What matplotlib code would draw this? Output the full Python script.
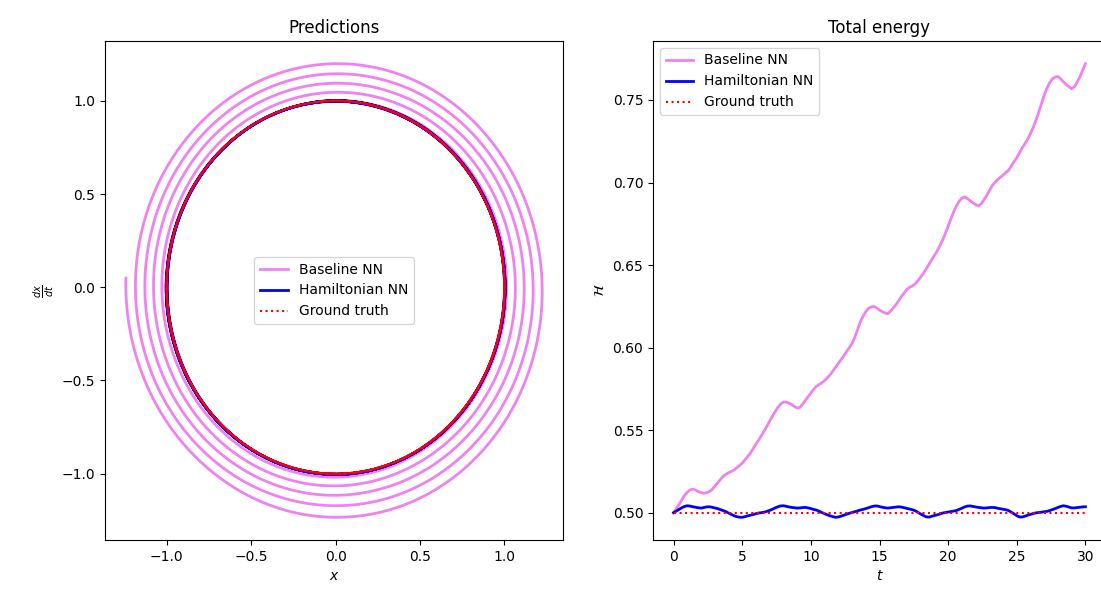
# -*- coding: utf-8 -*-
import numpy as np
import matplotlib
matplotlib.use("Agg")
import matplotlib.pyplot as plt
from matplotlib.lines import Line2D
from matplotlib.projections.polar import PolarAxes

# time grid, step 0.2 from 0 to 30
t = np.arange(151) * 0.2

# energy, one row per unit of t (5 samples each)
baseline_energy = [
    0.5000, 0.5025, 0.5050, 0.5078, 0.5105,
    0.5125, 0.5138, 0.5143, 0.5137, 0.5128,
    0.5122, 0.5118, 0.5120, 0.5128, 0.5140,
    0.5160, 0.5180, 0.5200, 0.5220, 0.5232,
    0.5242, 0.5250, 0.5258, 0.5272, 0.5286,
    0.5300, 0.5320, 0.5340, 0.5362, 0.5388,
    0.5413, 0.5440, 0.5467, 0.5495, 0.5525,
    0.5556, 0.5585, 0.5612, 0.5638, 0.5658,
    0.5670, 0.5670, 0.5664, 0.5655, 0.5643,
    0.5634, 0.5638, 0.5658, 0.5680, 0.5702,
    0.5725, 0.5747, 0.5765, 0.5776, 0.5787,
    0.5800, 0.5817, 0.5835, 0.5858, 0.5882,
    0.5905, 0.5928, 0.5950, 0.5975, 0.6000,
    0.6025, 0.6062, 0.6108, 0.6155, 0.6190,
    0.6218, 0.6238, 0.6247, 0.6249, 0.6240,
    0.6228, 0.6218, 0.6210, 0.6205, 0.6220,
    0.6240, 0.6260, 0.6285, 0.6310, 0.6332,
    0.6353, 0.6365, 0.6375, 0.6386, 0.6405,
    0.6428, 0.6450, 0.6477, 0.6505, 0.6532,
    0.6558, 0.6585, 0.6617, 0.6652, 0.6692,
    0.6735, 0.6780, 0.6822, 0.6858, 0.6886,
    0.6905, 0.6913, 0.6903, 0.6890, 0.6878,
    0.6866, 0.6859, 0.6870, 0.6895, 0.6920,
    0.6950, 0.6980, 0.7000, 0.7017, 0.7031,
    0.7045, 0.7060, 0.7074, 0.7100, 0.7125,
    0.7150, 0.7180, 0.7210, 0.7236, 0.7264,
    0.7297, 0.7333, 0.7378, 0.7425, 0.7478,
    0.7530, 0.7572, 0.7605, 0.7628, 0.7640,
    0.7642, 0.7628, 0.7610, 0.7594, 0.7580,
    0.7568, 0.7580, 0.7608, 0.7640, 0.7680,
    0.7720,
]

hnn_energy = [
    0.5000, 0.5010, 0.5020, 0.5030, 0.5038,
    0.5042, 0.5040, 0.5036, 0.5033, 0.5030,
    0.5028, 0.5031, 0.5035, 0.5036, 0.5033,
    0.5029, 0.5025, 0.5019, 0.5013, 0.5007,
    0.4998, 0.4990, 0.4982, 0.4976, 0.4973,
    0.4972, 0.4976, 0.4981, 0.4985, 0.4989,
    0.4994, 0.4998, 0.5000, 0.5003, 0.5008,
    0.5014, 0.5021, 0.5029, 0.5036, 0.5041,
    0.5042, 0.5039, 0.5035, 0.5032, 0.5030,
    0.5028, 0.5029, 0.5031, 0.5032, 0.5029,
    0.5025, 0.5020, 0.5016, 0.5009, 0.5001,
    0.4994, 0.4987, 0.4981, 0.4976, 0.4972,
    0.4974, 0.4979, 0.4985, 0.4991, 0.4996,
    0.5001, 0.5006, 0.5011, 0.5016, 0.5020,
    0.5025, 0.5030, 0.5036, 0.5040, 0.5041,
    0.5037, 0.5033, 0.5030, 0.5028, 0.5030,
    0.5032, 0.5034, 0.5036, 0.5034, 0.5030,
    0.5026, 0.5022, 0.5018, 0.5012, 0.5002,
    0.4992, 0.4983, 0.4975, 0.4973, 0.4978,
    0.4983, 0.4987, 0.4992, 0.4998, 0.5001,
    0.5004, 0.5007, 0.5010, 0.5013, 0.5020,
    0.5027, 0.5035, 0.5040, 0.5041, 0.5038,
    0.5035, 0.5032, 0.5030, 0.5028, 0.5029,
    0.5031, 0.5032, 0.5031, 0.5027, 0.5024,
    0.5021, 0.5018, 0.5013, 0.5003, 0.4993,
    0.4982, 0.4974, 0.4974, 0.4979, 0.4985,
    0.4990, 0.4995, 0.4999, 0.5001, 0.5003,
    0.5006, 0.5008, 0.5013, 0.5019, 0.5025,
    0.5032, 0.5038, 0.5042, 0.5039, 0.5034,
    0.5029, 0.5029, 0.5031, 0.5033, 0.5035,
    0.5036,
]

gt_energy = [0.5] * len(t)

# starting phase angle of the orbit (clockwise motion in the x, dx/dt plane)
theta0 = 1.686

labels = ["Baseline NN", "Hamiltonian NN", "Ground truth"]
colors = ["violet", "b", "r"]

try:
    polar = PolarAxes.PolarTransform(apply_theta_transforms=False)
except TypeError:
    polar = PolarAxes.PolarTransform()


# draw the orbit in the (x, dx/dt) plane: angle from t, radius from H = r^2 / 2
# the polar transform lets matplotlib render smooth arcs between samples
def PhaseLine(ax, energy, style, color, lw, label):
    r = np.sqrt(2 * np.asarray(energy))
    ang = theta0 - t
    line = Line2D(ang, r, linestyle=style, color=color, lw=lw, label=label,
                  transform=polar + ax.transData)
    path = line.get_path()
    path._interpolation_steps = 16
    path.should_simplify = False
    ax.add_line(line)
    return line


fig = plt.figure(figsize=(11.01, 5.94), dpi=100)
ax1 = fig.add_axes([105 / 1101, 54 / 594, 458 / 1101, 499 / 594])
ax2 = fig.add_axes([653 / 1101, 54 / 594, 453 / 1101, 499 / 594])

# ==================left: predictions=============================
PhaseLine(ax1, baseline_energy, '-', colors[0], 2, labels[0])
PhaseLine(ax1, hnn_energy, '-', colors[1], 2, labels[1])
PhaseLine(ax1, gt_energy, ':', colors[2], 1.5, labels[2])
ax1.autoscale_view()
ax1.set_title("Predictions", fontsize=12)
ax1.set_xlabel("$x$")
ax1.set_ylabel("$\\frac{dx}{dt}$")
ax1.legend(loc='center')

# ==================right: total energy=============================
ax2.plot(t, baseline_energy, '-', color=colors[0], lw=2, label=labels[0])
ax2.plot(t, hnn_energy, '-', color=colors[1], lw=2, label=labels[1])
ax2.plot(t, gt_energy, ':', color=colors[2], lw=1.5, label=labels[2])
ax2.set_title("Total energy", fontsize=12)
ax2.set_xlabel("$t$")
ax2.set_ylabel("$\\mathcal{H}$")
ax2.legend(loc='upper left')

fig.savefig("out.png", dpi=100)
